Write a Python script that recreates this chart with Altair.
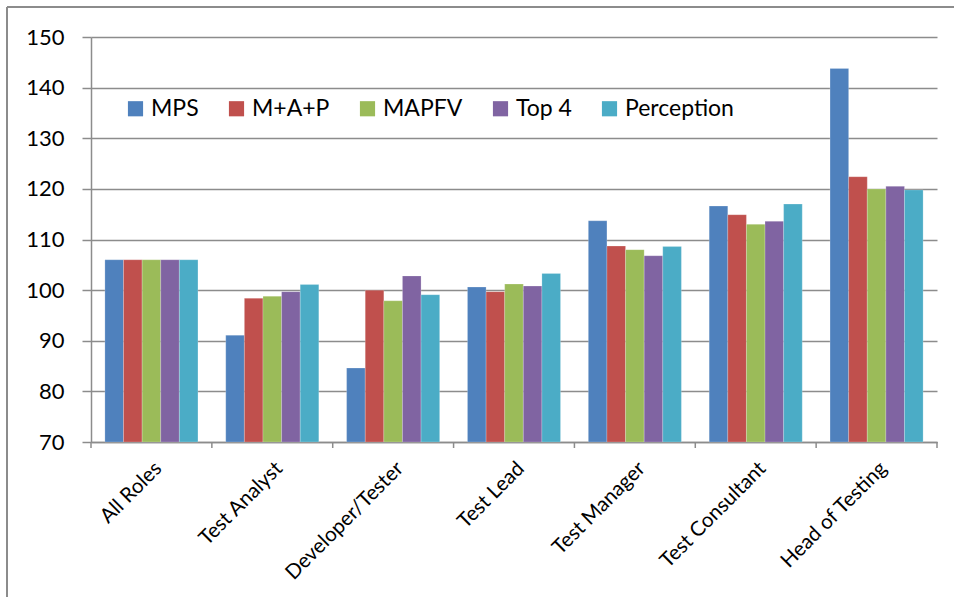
import altair as alt
import pandas as pd

# Role categories along the x axis
roles = ["All Roles", "Test Analyst", "Developer/Tester", "Test Lead",
         "Test Manager", "Test Consultant", "Head of Testing"]

# Series names and their values per role
series = ["MPS", "M+A+P", "MAPFV", "Top 4", "Perception"]
mps = [106.0, 91.1, 84.6, 100.6, 113.7, 116.6, 143.8]
m_a_p = [106.0, 98.4, 100.0, 99.7, 108.7, 114.9, 122.4]
mapfv = [106.0, 98.8, 97.9, 101.2, 108.0, 113.0, 120.0]
top4 = [106.0, 99.7, 102.8, 100.8, 106.8, 113.6, 120.5]
perception = [106.0, 101.1, 99.1, 103.3, 108.6, 117.0, 119.8]

colors = ["#4F81BD", "#C0504D", "#9BBB59", "#8064A2", "#4BACC6"]
y_ticks = [70, 80, 90, 100, 110, 120, 130, 140, 150]

rows = []
for name, vals in zip(series, [mps, m_a_p, mapfv, top4, perception]):
    for role, v in zip(roles, vals):
        rows.append({"role": role, "series": name, "value": v})
df = pd.DataFrame(rows)

# Category boundary positions for the x-axis tick marks
bounds = pd.DataFrame({"b": list(range(len(roles) + 1))})

W, H = 846, 405
FONT = "Lato"
GRID = "#8c8c8c"

bars = alt.Chart(df).mark_bar(stroke="white", strokeOpacity=0.35, strokeWidth=0.6).encode(
    x=alt.X("role:N", sort=roles, title=None,
            scale=alt.Scale(paddingInner=0.23, paddingOuter=0.115),
            axis=alt.Axis(labelAngle=-45, labelFontSize=20.5, labelFont=FONT,
                          labelColor="black", ticks=False, domainColor=GRID,
                          domainWidth=1.5, labelPadding=16)),
    xOffset=alt.XOffset("series:N", sort=series, scale=alt.Scale(paddingInner=0)),
    y=alt.Y("value:Q", title=None,
            scale=alt.Scale(domain=[70, 150], nice=False, zero=False),
            axis=alt.Axis(values=y_ticks, labelFontSize=22, labelFont=FONT,
                          labelColor="black", tickSize=9, tickColor=GRID,
                          tickWidth=1.5, domainColor=GRID, domainWidth=1.5,
                          gridColor=GRID, gridWidth=1.5, labelPadding=18)),
    y2=alt.datum(70),
    color=alt.Color("series:N", sort=series,
                    scale=alt.Scale(domain=series, range=colors),
                    legend=alt.Legend(title=None, orient="none", legendX=33,
                                      legendY=60, direction="horizontal",
                                      columns=5, symbolType="square",
                                      symbolSize=230, symbolStrokeWidth=0,
                                      labelFontSize=23, labelFont=FONT,
                                      labelColor="black", labelOffset=4,
                                      columnPadding=26, labelLimit=300)),
)

ticks = alt.Chart(bounds).mark_rule(color=GRID, strokeWidth=1.5).encode(
    x=alt.X("b:Q", scale=alt.Scale(domain=[0, len(roles)], nice=False, zero=False),
            axis=None),
    y=alt.value(H),
    y2=alt.value(H + 6),
)

# Outer frame: top and left edges
frame_top = alt.Chart(bounds).mark_rule(color=GRID, strokeWidth=1.5).encode(
    x=alt.value(-84), x2=alt.value(W + 30), y=alt.value(-30))
frame_left = alt.Chart(bounds).mark_rule(color=GRID, strokeWidth=1.5).encode(
    x=alt.value(-84), y=alt.value(-30), y2=alt.value(H + 160))

chart = alt.layer(bars, ticks, frame_top, frame_left).resolve_scale(
    x="independent"
).properties(
    width=W, height=H,
    autosize=alt.AutoSizeParams(type="none"),
    padding={"left": 91, "top": 37, "right": 17, "bottom": 155},
    background="white",
).configure_view(strokeWidth=0)

chart.save("out.html", embed_options={"renderer": "svg", "actions": False})
